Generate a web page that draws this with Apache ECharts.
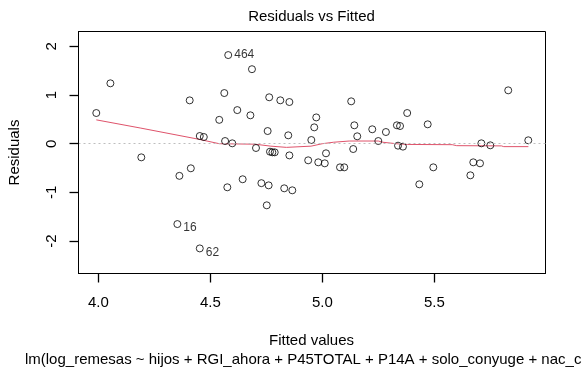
<!DOCTYPE html>
<html>
<head>
<meta charset="utf-8">
<script src="https://cdn.jsdelivr.net/npm/echarts@6/dist/echarts.min.js"></script>
<style>
html,body{margin:0;padding:0;background:#fff;}
#chart{width:586px;height:371px;}
</style>
</head>
<body>
<div id="chart"></div>
<script>
// Fitted values (x) and residuals (y)
const fitted = [3.991,4.054,4.192,4.353,4.362,4.408,4.413,4.453,4.453,4.471,4.540,4.5625,4.566,4.576,4.580,4.598,4.6205,4.6445,4.679,4.686,4.704,4.728,4.752,4.756,4.7605,4.763,4.7665,4.777,4.7875,4.8125,4.830,4.848,4.853,4.853,4.866,4.937,4.951,4.964,4.973,4.982,5.011,5.0165,5.079,5.098,5.129,5.138,5.143,5.156,5.223,5.25,5.284,5.333,5.338,5.347,5.36,5.379,5.433,5.4705,5.4955,5.661,5.674,5.704,5.71,5.75,5.830,5.9196];
const residuals = [0.63,1.24,-0.28,-1.65,-0.66,0.89,-0.505,-2.15,0.158,0.138,0.49,1.04,0.055,-0.895,1.82,0.008,0.69,-0.73,0.583,1.53,-0.088,-0.81,-1.265,0.26,-0.855,0.953,-0.164,-0.177,-0.177,0.891,-0.916,0.172,0.856,-0.24,-0.957,-0.341,0.076,0.336,0.54,-0.382,-0.403,-0.197,-0.485,-0.485,0.87,-0.109,0.378,0.152,0.296,0.055,0.24,0.378,-0.04,0.363,-0.06,0.63,-0.834,0.398,-0.485,-0.649,-0.382,-0.403,0.008,-0.033,1.096,0.07];
// Labelled observations (index into arrays above) and their ids
const labelIndex = [3, 7, 14];
const labelText = ['16', '62', '464'];
// Smoothed (lowess) line
const smoothX = [3.991,4.19,4.45,4.54,4.70,4.77,4.84,4.95,5.0,5.05,5.12,5.25,5.27,5.33,5.38,5.58,5.60,5.80,5.81,5.92];
const smoothY = [0.49,0.32,0.09,0.0,-0.01,-0.05,-0.075,-0.05,0.0,0.03,0.055,0.055,0.03,0.0,-0.015,-0.02,-0.04,-0.045,-0.06,-0.06];
// Tick values
const xTicks = [4.0, 4.5, 5.0, 5.5];
const yTicks = [-2, -1, 0, 1, 2];

const FONT = 'Liberation Sans, Arial, sans-serif';
const labelDy = {'16': 4, '62': 4, '464': 0};

const pts = fitted.map((x, i) => {
  const k = labelIndex.indexOf(i);
  const item = { value: [x, residuals[i]] };
  if (k >= 0) {
    const t = labelText[k];
    item.label = {
      show: true, position: 'right', distance: 2, formatter: t,
      color: '#000', fontSize: 12, fontFamily: FONT, offset: [0, labelDy[t] || 0]
    };
  }
  return item;
});

const texts = [
  { type: 'text', x: 311.5, y: 16.5, style: { text: 'Residuals vs Fitted', fill: '#000', font: '15px ' + FONT, textAlign: 'center', textVerticalAlign: 'middle' } },
  { type: 'text', x: 311.5, y: 341, style: { text: 'Fitted values', fill: '#000', font: '15px ' + FONT, textAlign: 'center', textVerticalAlign: 'middle' } },
  { type: 'text', x: 311.5, y: 359.5, style: { text: 'lm(log_remesas ~ hijos + RGI_ahora + P45TOTAL + P14A + solo_conyuge + nac_c ...', fill: '#000', font: '15px ' + FONT, textAlign: 'center', textVerticalAlign: 'middle' } },
  { type: 'text', x: 15, y: 152.5, rotation: Math.PI / 2, style: { text: 'Residuals', fill: '#000', font: '15px ' + FONT, textAlign: 'center', textVerticalAlign: 'middle' } }
];

const chart = echarts.init(document.getElementById('chart'), null, {renderer: 'canvas'});
chart.setOption({
  animation: false,
  backgroundColor: '#fff',
  grid: { show: true, borderColor: '#000', borderWidth: 1, backgroundColor: 'transparent',
          left: 78.5, right: 40.5, top: 31.5, bottom: 97.5 },
  xAxis: {
    type: 'value', min: 3.9116, max: 5.9964,
    axisLine: { show: true, onZero: false, lineStyle: { color: '#000', width: 1 } },
    splitLine: { show: false },
    axisTick: { show: true, length: 9, customValues: xTicks, lineStyle: { color: '#000', width: 1.3 } },
    axisLabel: { customValues: xTicks, margin: 22, color: '#000', fontSize: 15, fontFamily: FONT,
      formatter: v => Number(v).toFixed(1) }
  },
  yAxis: {
    type: 'value', min: -2.665, max: 2.304,
    axisLine: { show: true, onZero: false, lineStyle: { color: '#000', width: 1 } },
    splitLine: { show: false },
    axisTick: { show: true, length: 9, customValues: yTicks, lineStyle: { color: '#000', width: 1.3 } },
    axisLabel: { customValues: yTicks, rotate: 90, margin: 19, color: '#000', fontSize: 15, fontFamily: FONT,
      formatter: v => String(v) }
  },
  series: [
    {
      type: 'line',
      data: smoothX.map((x, i) => [x, smoothY[i]]),
      symbol: 'none',
      lineStyle: { color: '#DF536B', width: 1 },
      silent: true,
      z: 3,
      markLine: {
        silent: true, symbol: 'none', label: { show: false },
        lineStyle: { color: '#BEBEBE', type: [2, 3], width: 1 },
        data: [{ yAxis: 0 }]
      }
    },
    {
      type: 'scatter',
      data: pts,
      symbol: 'circle',
      symbolSize: 7,
      itemStyle: { color: 'rgba(0,0,0,0)', borderColor: '#000', borderWidth: 1 },
      z: 4
    }
  ],
  graphic: texts
});

// Tick marks placed through the axes' own scales (convertToPixel), drawn as filled rects
const gridBottom = Math.round(chart.convertToPixel({ yAxisIndex: 0 }, -2.665));
const gridLeft = Math.round(chart.convertToPixel({ xAxisIndex: 0 }, 3.9116));
const tickEls = [];
xTicks.forEach(v => {
  const px = Math.floor(chart.convertToPixel({ xAxisIndex: 0 }, v));
  tickEls.push({ type: 'rect', silent: true, z: 20,
    shape: { x: px, y: gridBottom, width: 1, height: 8 },
    style: { fill: '#000' } });
});
yTicks.forEach(v => {
  const py = Math.floor(chart.convertToPixel({ yAxisIndex: 0 }, v));
  tickEls.push({ type: 'rect', silent: true, z: 20,
    shape: { x: gridLeft - 8, y: py, width: 8, height: 1 },
    style: { fill: '#000' } });
});
chart.setOption({ graphic: texts.concat(tickEls) });
</script>
</body>
</html>
